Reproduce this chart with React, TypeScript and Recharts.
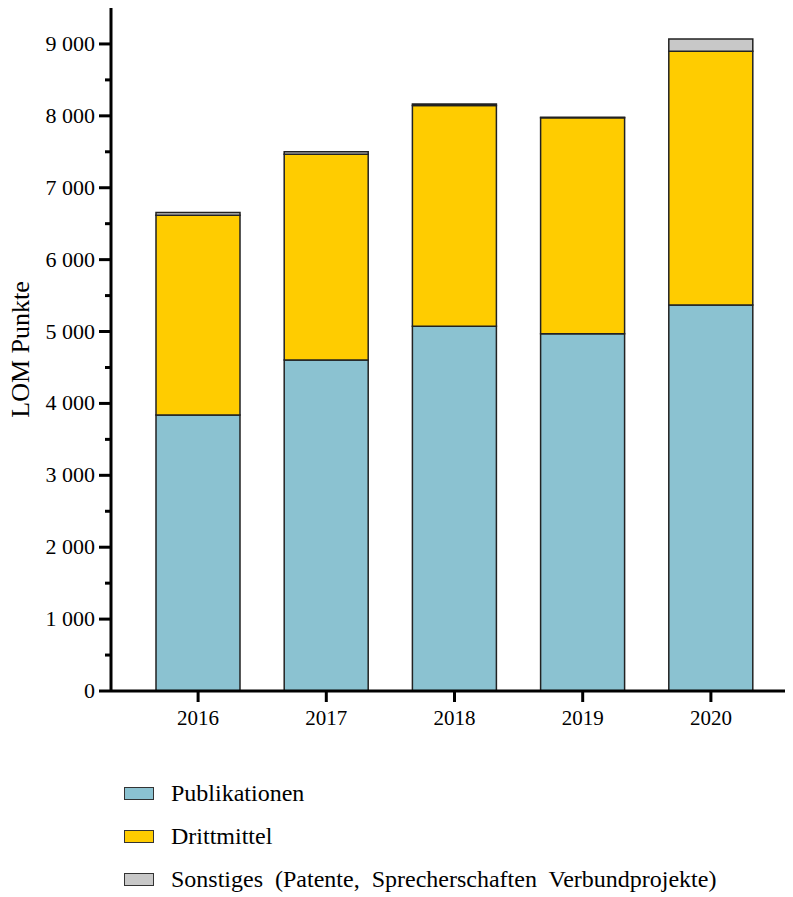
import { Bar, BarChart, Label, XAxis, YAxis } from 'recharts'

const years = ['2016', '2017', '2018', '2019', '2020']
const publikationen = [3840, 4605, 5075, 4970, 5370]
const drittmittel = [2777, 2860, 3070, 3005, 3530]
const sonstiges = [38, 35, 20, 5, 170]
const yTicks = [0, 500, 1000, 1500, 2000, 2500, 3000, 3500, 4000, 4500, 5000, 5500, 6000, 6500, 7000, 7500, 8000, 8500, 9000]

const series = [
    { key: 'pub', name: 'Publikationen', color: '#8bc2d1' },
    { key: 'dritt', name: 'Drittmittel', color: '#ffcc00' },
    { key: 'sonst', name: 'Sonstiges (Patente, Sprecherschaften Verbundprojekte)', color: '#c8c8c8' },
]

const data = years.map((year, i) => ({
    year,
    pub: publikationen[i],
    dritt: drittmittel[i],
    sonst: sonstiges[i],
}))

const font = '"Liberation Serif", "DejaVu Serif", serif'

function formatTick(value: number) {
    if (value === 0) return '0'
    return `${Math.floor(value / 1000)} ${String(value % 1000).padStart(3, '0')}`
}

function YTick(props: any) {
    const { x, y, payload } = props
    const axisX = x + 14
    const major = payload.value % 1000 === 0
    return (
        <g>
            <line x1={axisX - (major ? 12 : 6)} x2={axisX} y1={y} y2={y} stroke="#000" strokeWidth={3} />
            {major && (
                <text x={x - 2} y={y} dy={7} textAnchor="end" fontFamily={font} fontSize={22} fill="#000">
                    {formatTick(payload.value)}
                </text>
            )}
        </g>
    )
}

export default function App() {
    return (
        <div style={{ position: 'absolute', left: 0, top: 0, width: 793, height: 897, background: '#fff' }}>
            <BarChart width={793} height={897} data={data} margin={{ top: 8, right: 8, left: 0, bottom: 166 }} barSize={84}>
                <XAxis
                    dataKey="year"
                    height={40}
                    padding={{ left: 23, right: 10 }}
                    axisLine={{ stroke: '#000', strokeWidth: 3 }}
                    tickLine={{ stroke: '#000', strokeWidth: 3 }}
                    tickSize={11}
                    tick={{ fontFamily: font, fontSize: 21, fill: '#000', dy: 6 }}
                />
                <YAxis
                    width={111}
                    domain={[0, 9500]}
                    ticks={yTicks}
                    interval={0}
                    axisLine={{ stroke: '#000', strokeWidth: 3 }}
                    tickLine={false}
                    tickSize={10}
                    tickMargin={4}
                    tick={<YTick />}
                >
                    <Label value="LOM Punkte" angle={-90} position="center" dx={-36} fontFamily={font} fontSize={26} fill="#000" />
                </YAxis>
                {series.map((s) => (
                    <Bar key={s.key} dataKey={s.key} name={s.name} stackId="a" fill={s.color} stroke="#222" strokeWidth={1.5} isAnimationActive={false} />
                ))}
            </BarChart>
            <div style={{ position: 'absolute', left: 124, top: 772, fontFamily: font, fontSize: 24, color: '#000', wordSpacing: 6 }}>
                {series.map((s) => (
                    <div key={s.key} style={{ display: 'flex', alignItems: 'center', height: 43 }}>
                        <span style={{ display: 'inline-block', width: 28, height: 11, background: s.color, border: '1.5px solid #333', marginRight: 17 }} />
                        <span>{s.name}</span>
                    </div>
                ))}
            </div>
        </div>
    )
}
